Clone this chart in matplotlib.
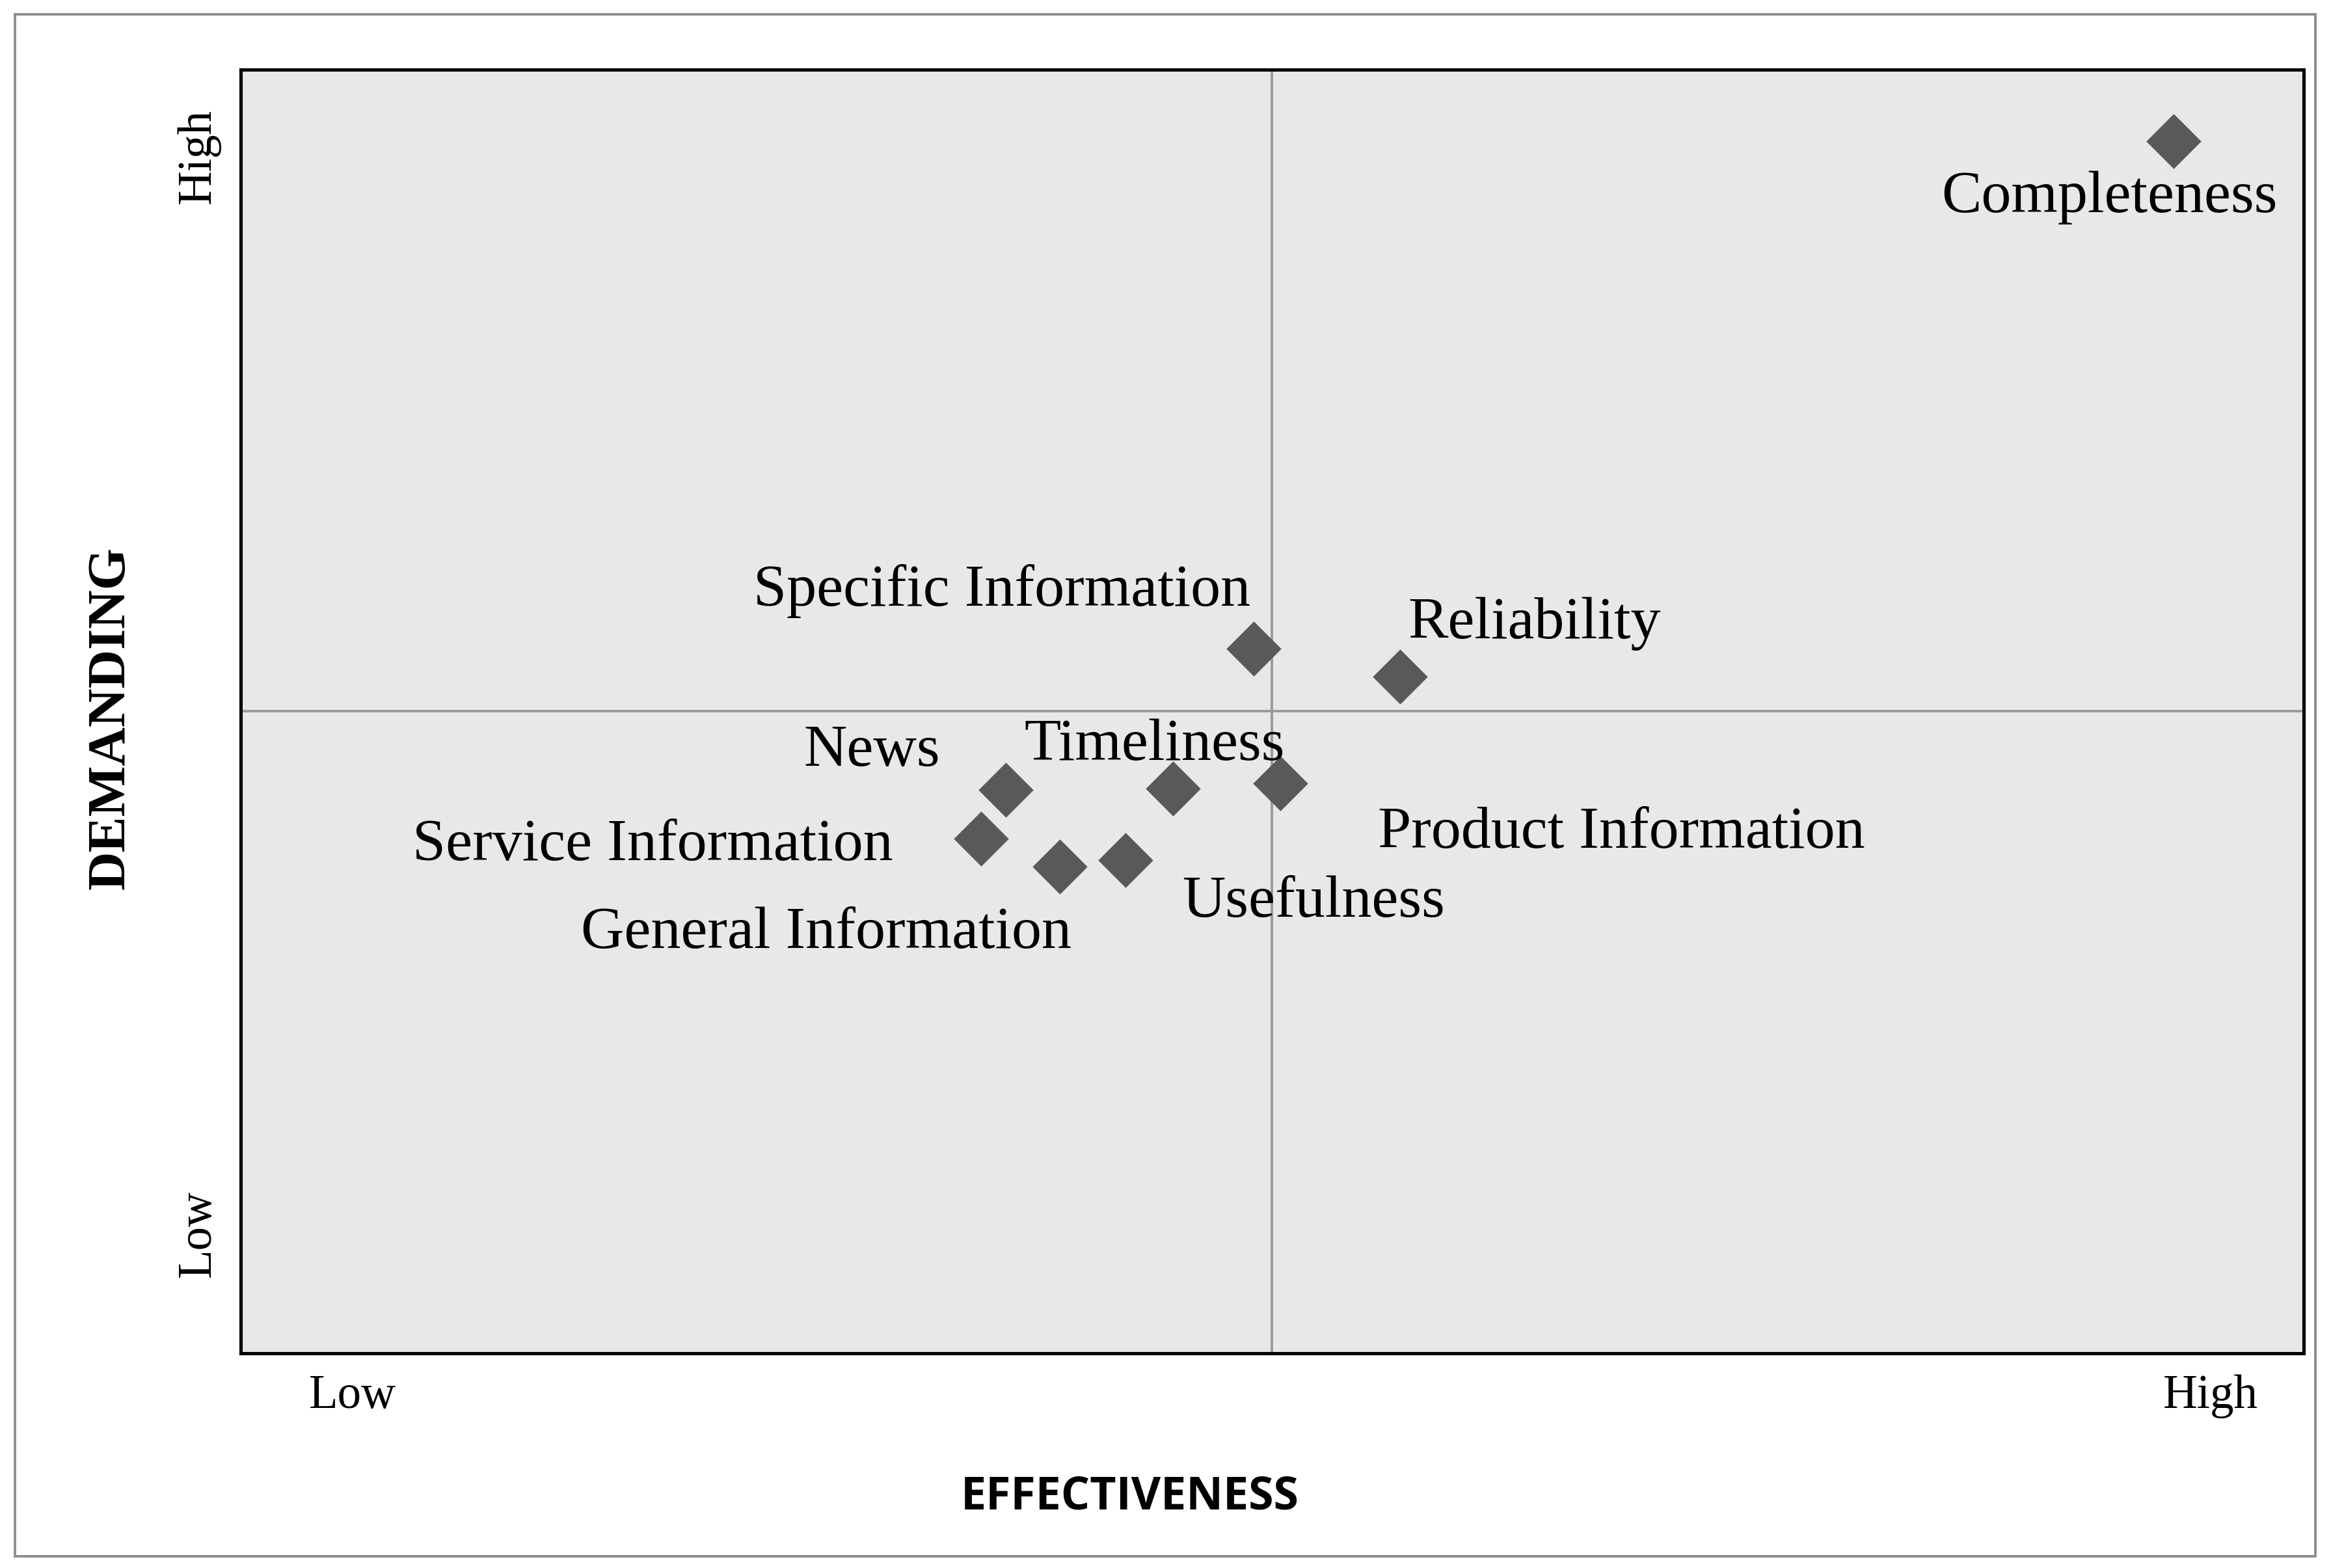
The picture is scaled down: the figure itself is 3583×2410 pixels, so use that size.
import matplotlib
matplotlib.use("Agg")
import matplotlib.pyplot as plt
from matplotlib.patches import Rectangle

labels = ["Completeness", "Specific Information", "Reliability", "News", "Timeliness",
          "Product Information", "Service Information", "General Information", "Usefulness"]
effectiveness = [9.37, 4.91, 5.62, 3.71, 4.52, 5.04, 3.59, 3.97, 4.29]
demanding = [9.44, 5.49, 5.27, 4.39, 4.40, 4.44, 4.01, 3.79, 3.84]
label_offsets = [(-31, -27), (-122, 28), (65, 26), (-65, 19), (-9, 21),
                 (165, -24), (-159, -3), (-113, -32), (91, -20)]
x_ticks = [0.54, 9.55]
y_ticks = [0.94, 9.33]
tick_labels = ["Low", "High"]

fig = plt.figure(figsize=(15.68, 10.548), dpi=228.57)
fig.patches.append(Rectangle((10/1568, 1-1045/1053), 1547/1568, 1035/1053,
                             transform=fig.transFigure, fill=False, ec="#8c8c8c", lw=1.2))
ax = fig.add_axes([162/1568, 1-909/1053, 1387/1568, 862/1053])
ax.set_facecolor("#e8e8e8")
ax.set_xlim(0, 10); ax.set_ylim(0, 10)
ax.axvline(5, color="#999999", lw=1.2, zorder=1)
ax.axhline(5, color="#999999", lw=1.2, zorder=1)
ax.plot(effectiveness, demanding, "D", color="#595959", ms=18, mec="#595959", zorder=3, ls="none")
serif = "Liberation Serif"
for l, x, y, off in zip(labels, effectiveness, demanding, label_offsets):
    ax.annotate(l, (x, y), xytext=off, textcoords="offset points", ha="center", va="center",
                fontsize=29, family=serif)
for s in ax.spines.values():
    s.set_linewidth(1.6); s.set_color("black")
ax.set_xticks(x_ticks); ax.set_xticklabels(tick_labels, family=serif, fontsize=23)
ax.set_yticks(y_ticks); ax.set_yticklabels(tick_labels, family=serif, fontsize=23, rotation=90, va="center")
ax.tick_params(length=0, pad=10)
fig.text(760/1568, 1-1005/1053, "EFFECTIVENESS", family="Open Sans", fontweight="bold",
         fontsize=22, ha="center", va="center")
fig.text(75/1568, 1-482/1053, "DEMANDING", family=serif, fontweight="bold",
         fontsize=26, ha="center", va="center", rotation=90)
fig.savefig("out.png", dpi=228.57)
